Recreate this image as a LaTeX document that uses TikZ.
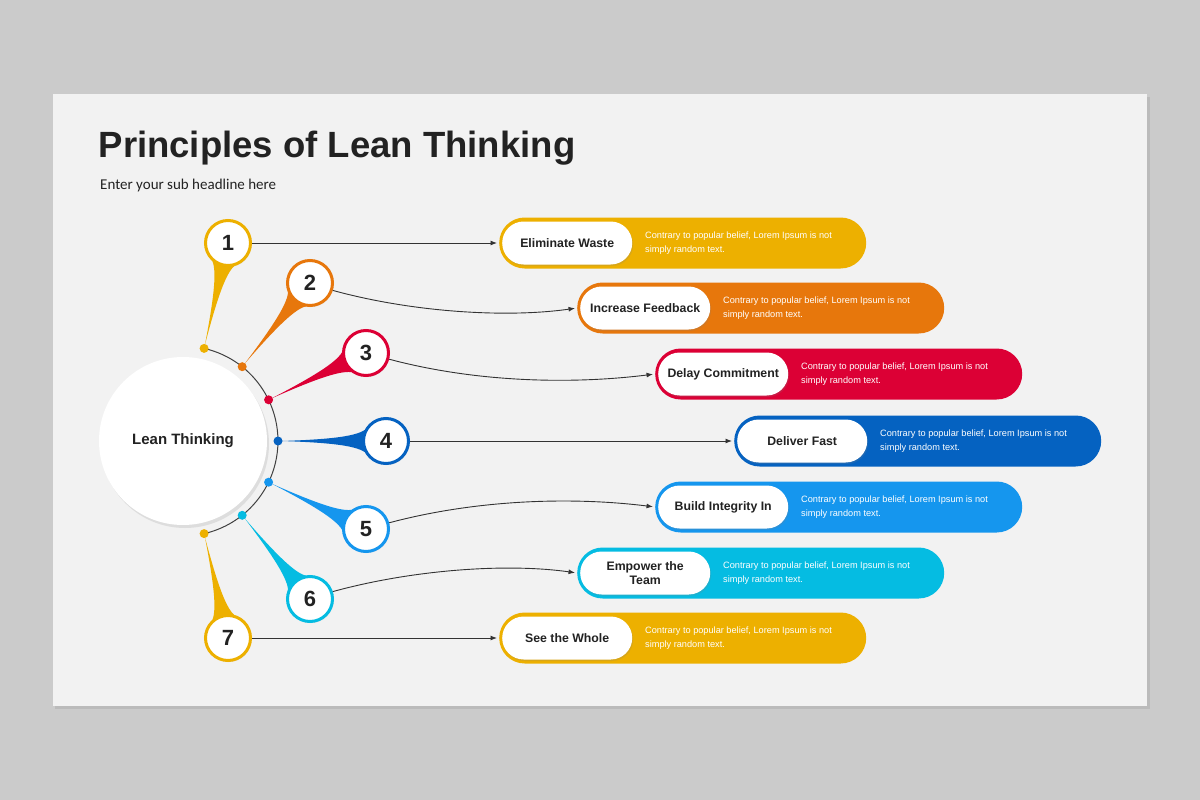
\documentclass[tikz,border=0pt]{standalone}
\usepackage{fontspec}
\setmainfont{Liberation Sans}
\newfontfamily\subfont{Carlito}
\usetikzlibrary{calc,shadows,arrows.meta}
\definecolor{cgold}{HTML}{EDB000}
\definecolor{corange}{HTML}{E7770C}
\definecolor{cred}{HTML}{DC0035}
\definecolor{cblue}{HTML}{0562C1}
\definecolor{clblue}{HTML}{1596EE}
\definecolor{ccyan}{HTML}{05BCE2}
\definecolor{outerbg}{HTML}{CBCBCB}
\definecolor{panelbg}{HTML}{F2F2F2}
\definecolor{ink}{HTML}{222222}
\newcommand\pintail[3]{%
  \fill[#3] ($(#1)!3pt!(#2)$) .. controls ($(#2)!32pt!4:(#1)$) and ($(#2)!26pt!18:(#1)$) .. ($(#2)!22pt!40:(#1)$)
    -- ($(#2)!22pt!320:(#1)$) .. controls ($(#2)!26pt!342:(#1)$) and ($(#2)!32pt!356:(#1)$) .. cycle;}
\begin{document}
\begin{tikzpicture}[x=1pt,y=-1pt,
  conn/.style={draw=black!80, line width=0.9pt, -{Latex[length=6.5pt,width=5pt]}, shorten >=2pt},
  numc/.style={circle, draw=#1, line width=3pt, fill=white, minimum size=45pt, inner sep=0pt,
    font=\fontsize{22}{22}\selectfont\bfseries, text=ink,
    drop shadow={opacity=0.15, shadow xshift=1pt, shadow yshift=-1.5pt}},
  dotc/.style={circle, fill=#1, minimum size=9pt, inner sep=0pt},
  pillbg/.style={rectangle, fill=#1, rounded corners=25.5pt, minimum width=367pt, minimum height=51pt, inner sep=0pt, anchor=west},
  pillin/.style={rectangle, fill=white, rounded corners=21.5pt, minimum width=130pt, minimum height=43pt, inner sep=0pt, anchor=west,
    font=\fontsize{12.3}{14}\selectfont\bfseries, text=ink, align=center,
    drop shadow={opacity=0.2, shadow xshift=1pt, shadow yshift=-1.5pt}},
  desc/.style={anchor=west, inner sep=0pt, text=white, align=left, font=\fontsize{9.2}{14}\selectfont}
]
\useasboundingbox (0,0) rectangle (1200,800);
\fill[outerbg] (0,0) rectangle (1200,800);
\fill[black, opacity=0.08] (55,97) rectangle (1150,709);
\fill[panelbg] (53,94) rectangle (1147,706);

% title
\node[anchor=base west, inner sep=0pt, text=ink, font=\fontsize{36.5}{40}\selectfont\bfseries] (title) at (98.5,157) {Principles of Lean Thinking};
\node[anchor=base west, inner sep=0pt, text=ink, font=\subfont\fontsize{15}{18}\selectfont] (sub) at (100,189) {Enter your sub headline here};

% centre circle
\node[circle, fill=white, minimum size=168pt, inner sep=0pt, font=\fontsize{15}{18}\selectfont\bfseries, text=ink,
  drop shadow={opacity=0.18, shadow xshift=2pt, shadow yshift=-3pt}] (lean) at (183,441) {Lean Thinking};

% arc and dot positions
\coordinate (d1) at (204.1,348.4);
\coordinate (d2) at (242.2,366.7);
\coordinate (d3) at (268.6,399.8);
\coordinate (d4) at (278,441);
\coordinate (d5) at (268.6,482.2);
\coordinate (d6) at (242.2,515.3);
\coordinate (d7) at (204.1,533.6);
\draw[black!75, line width=1pt] (d1) arc[start angle=-77.14, end angle=77.14, radius=95];

% number circle centres
\coordinate (c1) at (228,243);
\coordinate (c2) at (310,283);
\coordinate (c3) at (366,353);
\coordinate (c4) at (386,441);
\coordinate (c5) at (366,529);
\coordinate (c6) at (310,599);
\coordinate (c7) at (228,638);

\pintail{d1}{c1}{cgold}
\pintail{d2}{c2}{corange}
\pintail{d3}{c3}{cred}
\pintail{d4}{c4}{cblue}
\pintail{d5}{c5}{clblue}
\pintail{d6}{c6}{ccyan}
\pintail{d7}{c7}{cgold}

\node[dotc=cgold] (o1) at (d1) {};
\node[dotc=corange] (o2) at (d2) {};
\node[dotc=cred] (o3) at (d3) {};
\node[dotc=cblue] (o4) at (d4) {};
\node[dotc=clblue] (o5) at (d5) {};
\node[dotc=ccyan] (o6) at (d6) {};
\node[dotc=cgold] (o7) at (d7) {};

\node[numc=cgold] (n1) at (c1) {1};
\node[numc=corange] (n2) at (c2) {2};
\node[numc=cred] (n3) at (c3) {3};
\node[numc=cblue] (n4) at (c4) {4};
\node[numc=clblue] (n5) at (c5) {5};
\node[numc=ccyan] (n6) at (c6) {6};
\node[numc=cgold] (n7) at (c7) {7};

% pills
\node[pillbg=cgold] (p1) at (499,243) {};
\node[pillbg=corange] (p2) at (577,308) {};
\node[pillbg=cred] (p3) at (655,374) {};
\node[pillbg=cblue] (p4) at (734,441) {};
\node[pillbg=clblue] (p5) at (655,507) {};
\node[pillbg=ccyan] (p6) at (577,573) {};
\node[pillbg=cgold] (p7) at (499,638) {};

\node[pillin] (w1) at ($(p1.west)+(3,0)$) {Eliminate Waste};
\node[pillin] (w2) at ($(p2.west)+(3,0)$) {Increase Feedback};
\node[pillin] (w3) at ($(p3.west)+(3,0)$) {Delay Commitment};
\node[pillin] (w4) at ($(p4.west)+(3,0)$) {Deliver Fast};
\node[pillin] (w5) at ($(p5.west)+(3,0)$) {Build Integrity In};
\node[pillin] (w6) at ($(p6.west)+(3,0)$) {Empower the\\Team};
\node[pillin] (w7) at ($(p7.west)+(3,0)$) {See the Whole};

\foreach \k in {1,...,7}{
  \node[desc] (t\k) at ($(p\k.west)+(146,0)$) {Contrary to popular belief, Lorem Ipsum is not\\simply random text.};
}

% connectors
\draw[conn] (n1) -- (p1);
\draw[conn] (n2.-18) .. controls +(80,22) and +(-70,10) .. (p2.west);
\draw[conn] (n3.-15) .. controls +(90,24) and +(-80,10) .. (p3.west);
\draw[conn] (n4) -- (p4);
\draw[conn] (n5.15) .. controls +(90,-24) and +(-80,-10) .. (p5.west);
\draw[conn] (n6.18) .. controls +(80,-22) and +(-70,-10) .. (p6.west);
\draw[conn] (n7) -- (p7);
\end{tikzpicture}
\end{document}
